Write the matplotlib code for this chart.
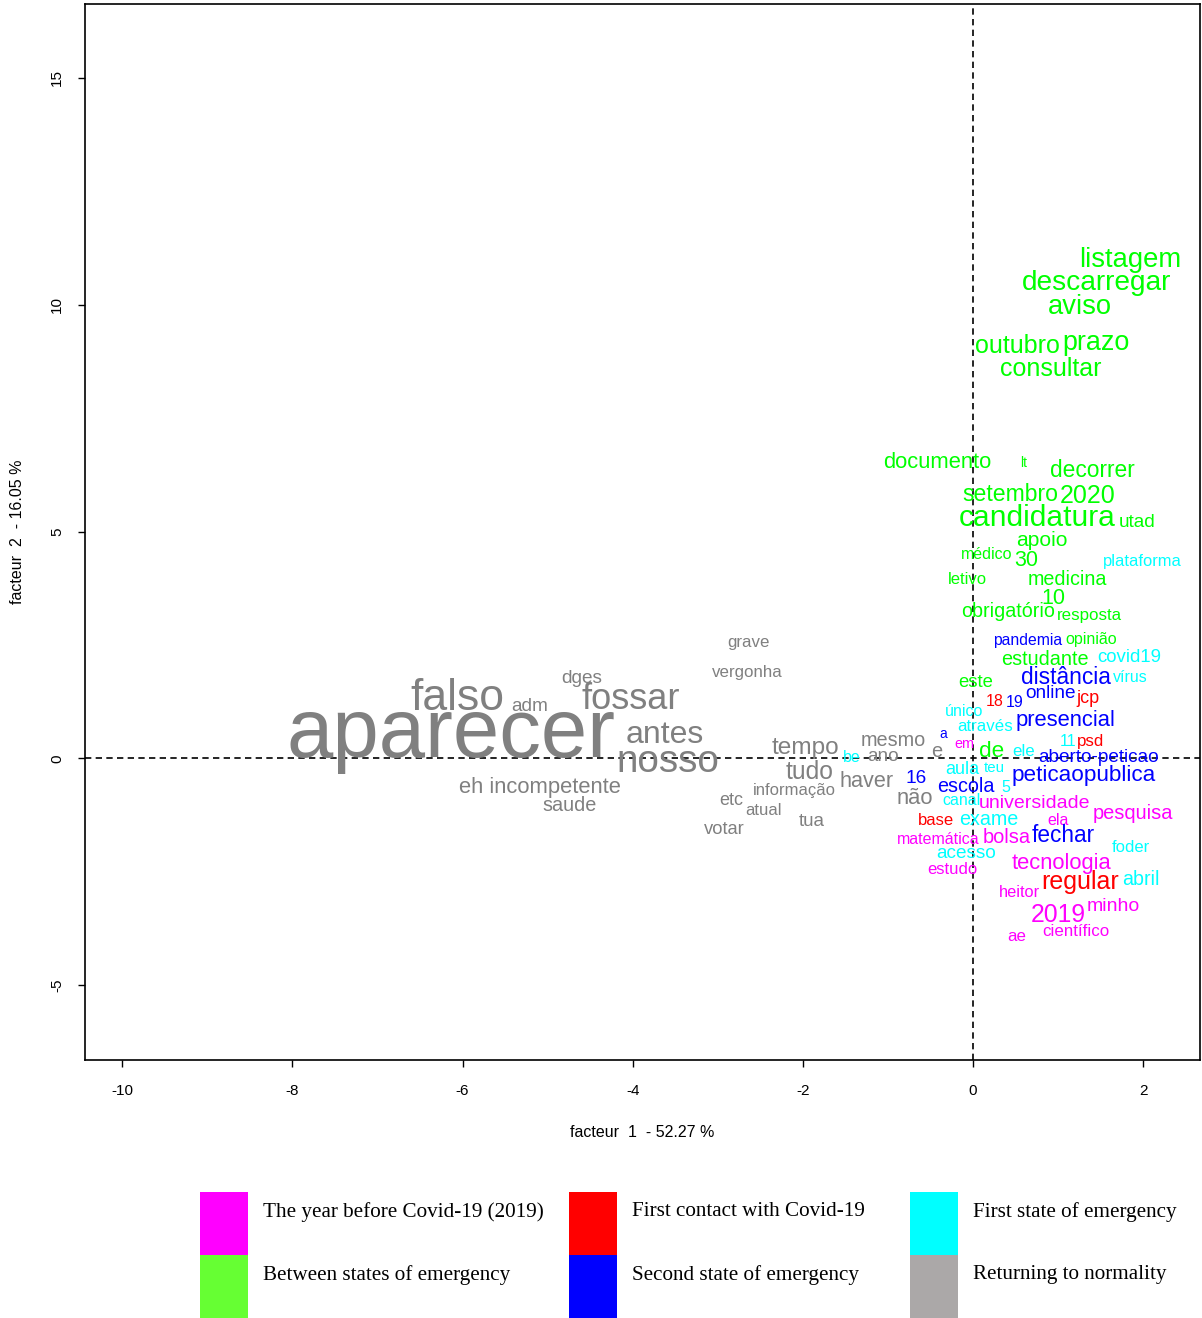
import matplotlib
matplotlib.use("Agg")
import matplotlib.pyplot as plt
from matplotlib.patches import Rectangle

plt.rcParams["font.family"] = ["Liberation Sans", "DejaVu Sans"]
plt.rcParams["axes.unicode_minus"] = False

# ---- word coordinates on factors 1 and 2, with display size (pt) ----
# The year before Covid-19 (2019)
words_2019 = ["em", "universidade", "pesquisa", "ela", "matemática", "bolsa",
              "estudo", "tecnologia", "heitor", "2019", "minho", "ae", "científico"]
f1_2019 = [-0.106, 0.717, 1.881, 0.999, -0.411, 0.400, -0.247, 1.046, 0.541, 0.999, 1.646, 0.517, 1.211]
f2_2019 = [0.32, -0.99, -1.21, -1.36, -1.80, -1.74, -2.44, -2.31, -2.95, -3.45, -3.26, -3.92, -3.81]
size_2019 = [10.4, 14.0, 14.4, 11.5, 11.5, 14.4, 12.0, 15.8, 11.8, 17.8, 14.0, 12.2, 12.2]

# First contact with Covid-19
words_first = ["18", "jcp", "psd", "base", "regular"]
f1_first = [0.259, 1.352, 1.387, -0.435, 1.258]
f2_first = [1.26, 1.33, 0.37, -1.38, -2.73]
size_first = [11.5, 13.0, 12.2, 12.0, 18.0]

# First state of emergency
words_se1 = ["plataforma", "covid19", "vírus", "único", "através", "ele", "11", "be",
             "aula", "teu", "5", "canal", "exame", "foder", "acesso", "abril"]
f1_se1 = [1.986, 1.834, 1.845, -0.106, 0.141, 0.599, 1.117, -1.422,
          -0.129, 0.247, 0.388, -0.141, 0.188, 1.857, -0.082, 1.975]
f2_se1 = [4.33, 2.23, 1.79, 1.04, 0.71, 0.14, 0.37, 0.01,
          -0.24, -0.21, -0.64, -0.94, -1.34, -1.96, -2.09, -2.66]
size_se1 = [11.9, 13.4, 11.5, 11.5, 12.2, 12.2, 11.5, 11.5,
            13.0, 10.8, 11.5, 11.5, 14.2, 12.0, 13.7, 14.1]

# Between states of emergency
words_between = ["listagem", "descarregar", "aviso", "outubro", "prazo", "consultar",
                 "documento", "lt", "decorrer", "setembro", "2020", "candidatura", "utad",
                 "apoio", "médico", "30", "letivo", "medicina", "10", "obrigatório",
                 "resposta", "opinião", "estudante", "este", "de"]
f1_between = [1.845, 1.457, 1.258, 0.517, 1.446, 0.917,
              -0.423, 0.599, 1.399, 0.435, 1.352, 0.752, 1.928,
              0.811, 0.165, 0.623, -0.071, 1.105, 0.940, 0.411,
              1.363, 1.387, 0.846, 0.035, 0.223]
f2_between = [10.99, 10.48, 9.95, 9.09, 9.16, 8.58,
              6.53, 6.51, 6.34, 5.81, 5.78, 5.30, 5.21,
              4.81, 4.50, 4.37, 3.95, 3.95, 3.53, 3.23,
              3.14, 2.61, 2.19, 1.68, 0.16]
size_between = [19.7, 20.2, 19.7, 18.0, 19.4, 18.0,
                 15.8, 10.0, 16.4, 16.6, 18.0, 21.6, 13.7,
                 15.1, 11.5, 15.5, 12.0, 14.2, 15.5, 14.2,
                 12.2, 11.5, 14.3, 13.3, 16.2]

# Second state of emergency
words_se2 = ["pandemia", "distância", "19", "online", "presencial", "a",
             "aberto-peticao", "peticaopublica", "16", "escola", "fechar"]
f1_se2 = [0.646, 1.093, 0.494, 0.905, 1.093, -0.353, 1.481, 1.305, -0.670, -0.082, 1.058]
f2_se2 = [2.59, 1.79, 1.23, 1.42, 0.84, 0.54, 0.01, -0.37, -0.45, -0.61, -1.71]
size_se2 = [11.3, 16.4, 11.5, 13.7, 15.8, 10.0, 13.7, 16.2, 13.7, 14.2, 16.3]

# Returning to normality
words_normal = ["grave", "vergonha", "dges", "falso", "adm", "fossar", "aparecer", "antes",
                "nosso", "eh incompetente", "saude", "tempo", "ano", "mesmo", "e", "tudo",
                "haver", "não", "informação", "etc", "atual", "votar", "tua"]
f1_normal = [-2.633, -2.656, -4.596, -6.065, -5.207, -4.020, -6.135, -3.620,
             -3.585, -5.089, -4.737, -1.975, -1.058, -0.940, -0.423, -1.916,
             -1.246, -0.682, -2.104, -2.844, -2.468, -2.927, -1.892]
f2_normal = [2.55, 1.90, 1.77, 1.31, 1.15, 1.29, 0.51, 0.51,
             -0.08, -0.65, -1.05, 0.23, 0.03, 0.40, 0.16, -0.30,
             -0.52, -0.88, -0.70, -0.92, -1.14, -1.56, -1.40]
size_normal = [12.2, 12.2, 13.7, 32.0, 13.7, 26.0, 60.0, 23.0,
               27.8, 15.8, 14.3, 17.6, 13.7, 14.3, 14.4, 17.8,
               15.6, 15.8, 12.0, 13.0, 12.0, 13.2, 13.5]

periods = ["The year before Covid-19 (2019)", "First contact with Covid-19",
           "First state of emergency", "Between states of emergency",
           "Second state of emergency", "Returning to normality"]
text_colors = ["#FF00FF", "#FF0000", "#00FFFF", "#00FF00", "#0000FF", "#808080"]
legend_colors = ["#FF00FF", "#FF0000", "#00FFFF", "#66FF33", "#0000FF", "#ABA8A8"]

groups = [
    (words_2019, f1_2019, f2_2019, size_2019),
    (words_first, f1_first, f2_first, size_first),
    (words_se1, f1_se1, f2_se1, size_se1),
    (words_between, f1_between, f2_between, size_between),
    (words_se2, f1_se2, f2_se2, size_se2),
    (words_normal, f1_normal, f2_normal, size_normal),
]

xlabel = "facteur  1  - 52.27 %"
ylabel = "facteur  2  - 16.05 %"

W, H = 1202, 1318
DPI = 100
fig = plt.figure(figsize=(W / DPI, H / DPI), dpi=DPI)


def fx(px):
    return px / W


def fy(py):
    return 1 - py / H


ax = fig.add_axes([fx(85), fy(1060), fx(1200) - fx(85), fy(4) - fy(1060)])
ax.set_xlim(-10.437, 2.668)
ax.set_ylim(-6.65, 16.63)

# reference axes through the origin
ax.axhline(0, color="black", lw=1.2, linestyle=(0, (3.8, 2.6)), zorder=1)
ax.axvline(0, color="black", lw=1.2, linestyle=(0, (3.8, 2.6)), zorder=1)

for (words, xs, ys, sizes), col in zip(groups, text_colors):
    for w, x, y, s in zip(words, xs, ys, sizes):
        ax.text(x, y, w, color=col, fontsize=s, ha="center", va="center", zorder=2)

ax.set_xticks([-10, -8, -6, -4, -2, 0, 2])
ax.set_yticks([-5, 0, 5, 10, 15])
ax.tick_params(axis="both", direction="out", length=5, width=1, labelsize=11, color="black")
ax.tick_params(axis="x", pad=12)
ax.tick_params(axis="y", pad=10, labelrotation=90)
for lab in ax.get_yticklabels():
    lab.set_va("center")
for sp in ax.spines.values():
    sp.set_linewidth(1.2)

ax.set_xlabel(xlabel, fontsize=11.5, labelpad=20)
ax.set_ylabel(ylabel, fontsize=11.5, labelpad=18)

# colour key for the periods
box_x = [200, 569, 910]
box_w = 48
row_top = [1192, 1255]
row_h = 63
for i, (lab, col) in enumerate(zip(periods, legend_colors)):
    c = i % 3
    r = i // 3
    fig.patches.append(Rectangle((fx(box_x[c]), fy(row_top[r] + row_h)), box_w / W, row_h / H,
                                 transform=fig.transFigure, facecolor=col, edgecolor="none"))
    fig.text(fx(box_x[c] + 63), fy(row_top[r] + 20), lab, family=["Liberation Serif", "DejaVu Serif"],
             fontsize=15.2, ha="left", va="center")

fig.savefig("out.png", dpi=DPI)
